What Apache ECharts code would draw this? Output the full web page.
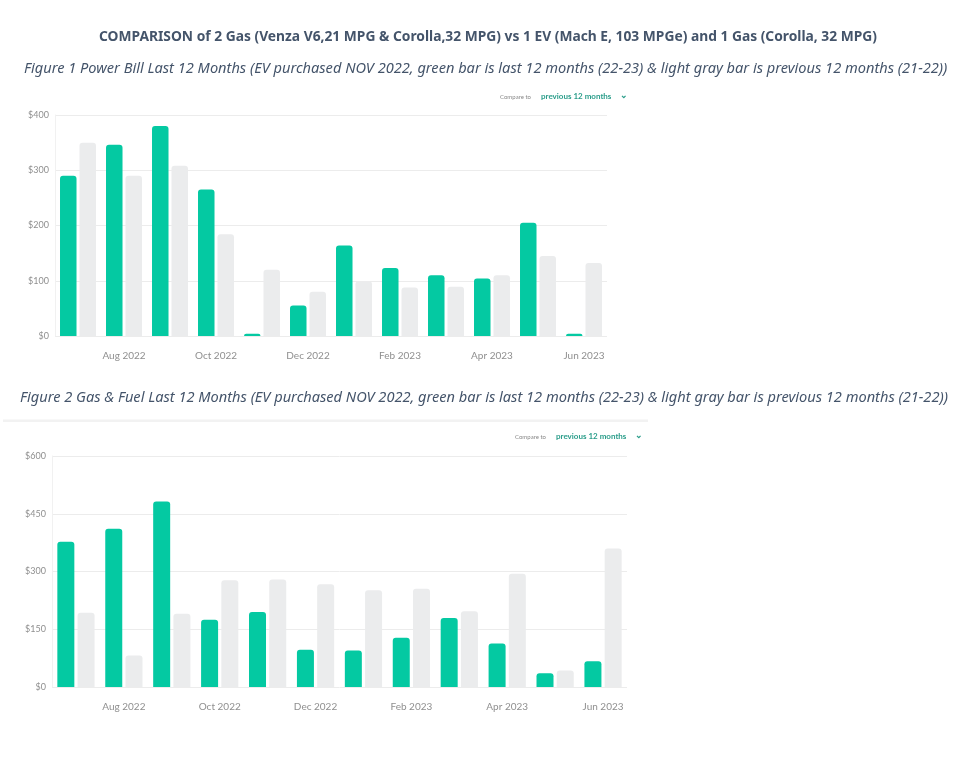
<!DOCTYPE html>
<html>
<head>
<meta charset="utf-8">
<script src="https://cdn.jsdelivr.net/npm/echarts@6/dist/echarts.min.js"></script>
<style>
html,body{margin:0;padding:0;background:#fff;}
#chart{width:979px;height:761px;}
</style>
</head>
<body>
<div id="chart"></div>
<script>
const months = ['Jul 2022','Aug 2022','Sep 2022','Oct 2022','Nov 2022','Dec 2022','Jan 2023','Feb 2023','Mar 2023','Apr 2023','May 2023','Jun 2023'];
const powerLast12 = [290, 346, 380, 265, 4, 55, 164, 123, 110, 104, 205, 4];
const powerPrev12 = [350, 290, 308, 184, 120, 80, 99, 88, 89, 110, 145, 132];
const gasLast12 = [377, 411, 482, 175, 195, 97, 95, 128, 179, 113, 36, 67];
const gasPrev12 = [193, 82, 190, 277, 279, 267, 251, 255, 197, 294, 43, 360];
const powerTicks = { min: 0, max: 400, interval: 100 };
const gasTicks = { min: 0, max: 600, interval: 150 };

const mainTitle = 'COMPARISON of 2 Gas (Venza V6,21 MPG & Corolla,32 MPG) vs 1 EV (Mach E, 103 MPGe) and 1 Gas (Corolla, 32 MPG)';
const fig1Caption = 'Figure 1 Power Bill Last 12 Months (EV purchased NOV 2022, green bar is last 12 months (22-23) & light gray bar is previous 12 months (21-22))';
const fig2Caption = 'Figure 2 Gas & Fuel Last 12 Months (EV purchased NOV 2022, green bar is last 12 months (22-23) & light gray bar is previous 12 months (21-22))';

const GREEN = '#04C9A2';
const GRAY = '#EBECED';
const FONT = 'Lato, "Open Sans", sans-serif';

const chart = echarts.init(document.getElementById('chart'), null, {renderer: 'canvas'});

function xAxis(idx) {
  return {
    type: 'category', gridIndex: idx, data: months,
    axisLine: {show: false}, axisTick: {show: false},
    axisLabel: {
      interval: (i) => i % 2 === 1,
      color: '#8f8f8f', fontSize: 10, fontFamily: FONT, margin: 15
    }
  };
}
function yAxis(idx, t) {
  return {
    type: 'value', gridIndex: idx, min: t.min, max: t.max, interval: t.interval,
    axisLine: {show: true, lineStyle: {color: '#f1f1f1'}},
    axisTick: {show: false},
    splitLine: {lineStyle: {color: '#ececec', width: 1}},
    axisLabel: {formatter: (v) => '$' + v, color: '#8f8f8f', fontSize: 9, fontFamily: FONT, margin: 6}
  };
}
function bar(name, data, color, idx, w, gap) {
  return {
    name, type: 'bar', xAxisIndex: idx, yAxisIndex: idx, data,
    barWidth: w, barGap: gap,
    itemStyle: {color, borderRadius: [3, 3, 0, 0]},
    silent: true
  };
}
function compareText(x, y) {
  return [
    {type: 'text', left: x, top: y, style: {text: 'Compare to', fill: '#888', font: '6px ' + FONT}},
    {type: 'text', left: x + 41, top: y - 2, style: {text: 'previous 12 months', fill: '#2a9d8a', font: 'bold 8px ' + FONT}},
    {type: 'text', left: x + 120, top: y - 3, style: {text: '\u2304', fill: '#2a9d8a', font: 'bold 9px ' + FONT}}
  ];
}

chart.setOption({
  animation: false,
  title: [
    {text: mainTitle, left: 94, top: 25,
     textStyle: {fontSize: 13.8, fontWeight: 'bold', color: '#44546A', fontFamily: 'Noto Sans, sans-serif'}},
    {text: fig1Caption, left: 19, top: 56,
     textStyle: {fontSize: 14.6, fontStyle: 'italic', fontWeight: 'normal', color: '#44546A', fontFamily: 'Noto Sans, sans-serif'}},
    {text: fig2Caption, left: 15, top: 385,
     textStyle: {fontSize: 14.6, fontStyle: 'italic', fontWeight: 'normal', color: '#44546A', fontFamily: 'Noto Sans, sans-serif'}}
  ],
  grid: [
    {left: 55, top: 115, width: 552, height: 221, containLabel: false},
    {left: 52, top: 456, width: 575, height: 231, containLabel: false}
  ],
  xAxis: [xAxis(0), xAxis(1)],
  yAxis: [yAxis(0, powerTicks), yAxis(1, gasTicks)],
  series: [
    bar('Last 12 months', powerLast12, GREEN, 0, 16.5, '18%'),
    bar('Previous 12 months', powerPrev12, GRAY, 0, 16.5, '18%'),
    bar('Last 12 months', gasLast12, GREEN, 1, 17, '19%'),
    bar('Previous 12 months', gasPrev12, GRAY, 1, 17, '19%')
  ],
  graphic: [
    {type: 'rect', shape: {x: 3, y: 419.5, width: 645, height: 2.5}, style: {fill: '#f2f2f2'}, silent: true},
    ...compareText(500, 94),
    ...compareText(515, 434)
  ]
});
</script>
</body>
</html>
